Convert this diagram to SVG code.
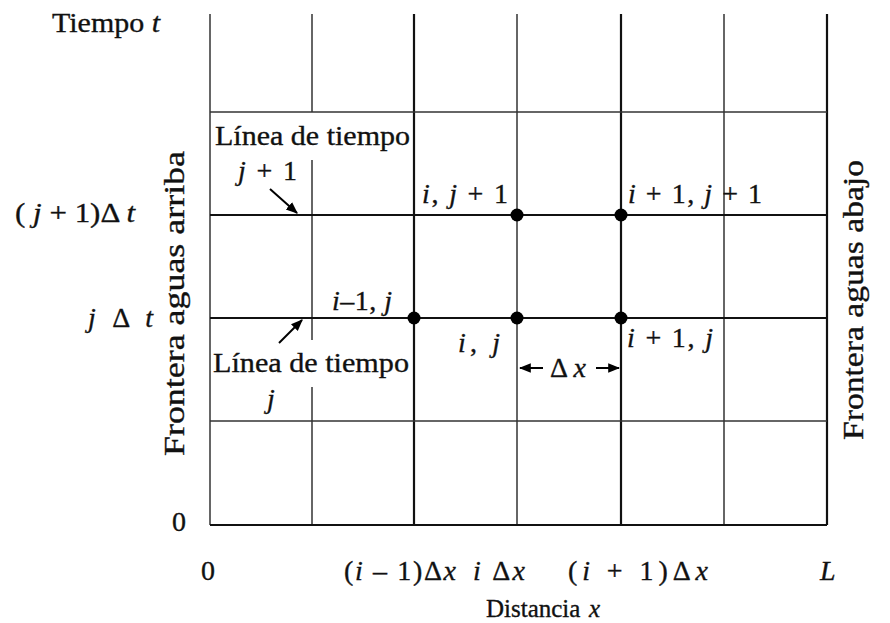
<svg xmlns="http://www.w3.org/2000/svg" width="890" height="623" viewBox="0 0 890 623">
<defs>
<style>
text{font-family:"Liberation Serif","Times New Roman",serif;font-size:28px;fill:#111;stroke:#111;stroke-width:0.35}
.it{font-style:italic}
.side{font-size:30px}
.thin{stroke:#333;stroke-width:1.5;fill:none}
.thick{stroke:#111;stroke-width:2.2;fill:none}
.dot{fill:#000}
.arr{stroke:#000;stroke-width:2;fill:none}
</style>
<marker id="ah" viewBox="0 0 10 10" refX="9" refY="5" markerWidth="6" markerHeight="6" orient="auto" markerUnits="strokeWidth">
<path d="M0,1 L10,5 L0,9 Z" fill="#000"/>
</marker>
</defs>
<rect width="890" height="623" fill="#fff"/>
<g id="grid">
<line class="thin" x1="210" y1="14" x2="210" y2="525"/>
<line class="thin" x1="312" y1="14" x2="312" y2="112"/>
<line class="thin" x1="312" y1="160" x2="312" y2="340"/>
<line class="thin" x1="312" y1="387" x2="312" y2="525"/>
<line class="thick" x1="414" y1="14" x2="414" y2="525"/>
<line class="thin" x1="517" y1="14" x2="517" y2="525"/>
<line class="thick" x1="621" y1="14" x2="621" y2="525"/>
<line class="thin" x1="724" y1="14" x2="724" y2="525"/>
<line class="thick" x1="827" y1="14" x2="827" y2="525"/>
<line class="thin" x1="210" y1="112" x2="827" y2="112"/>
<line class="thick" x1="210" y1="215" x2="827" y2="215"/>
<line class="thick" x1="210" y1="318" x2="827" y2="318"/>
<line class="thin" x1="210" y1="421" x2="827" y2="421"/>
<line class="thick" x1="210" y1="525" x2="827" y2="525"/>
</g>
<g id="node-i-j1"><circle class="dot" cx="517" cy="215" r="6.5"/></g>
<g id="node-i1-j1"><circle class="dot" cx="621" cy="215" r="6.5"/></g>
<g id="node-im1-j"><circle class="dot" cx="414" cy="318" r="6.5"/></g>
<g id="node-i-j"><circle class="dot" cx="517" cy="318" r="6.5"/></g>
<g id="node-i1-j"><circle class="dot" cx="621" cy="318" r="6.5"/></g>
<g id="connectors">
<line class="arr" x1="270" y1="189" x2="297" y2="213" marker-end="url(#ah)"/>
<line class="arr" x1="279" y1="343" x2="302" y2="320" marker-end="url(#ah)"/>
<line class="arr" x1="543" y1="368" x2="520" y2="368" marker-end="url(#ah)"/>
<line class="arr" x1="596" y1="368" x2="619" y2="368" marker-end="url(#ah)"/>
</g>
<g id="labels">
<text x="52" y="32" textLength="108" lengthAdjust="spacingAndGlyphs">Tiempo <tspan class="it">t</tspan></text>
<text x="15" y="222" textLength="120" lengthAdjust="spacingAndGlyphs">( <tspan class="it">j</tspan> + 1)Δ <tspan class="it">t</tspan></text>
<text x="88" y="327" textLength="65" lengthAdjust="spacing"><tspan class="it">j</tspan> Δ <tspan class="it">t</tspan></text>
<text x="172" y="531">0</text>
<text x="215" y="145" textLength="195" lengthAdjust="spacingAndGlyphs">Línea de tiempo</text>
<text x="238" y="180" textLength="59" lengthAdjust="spacing"><tspan class="it">j</tspan> + 1</text>
<text x="422" y="203" textLength="86" lengthAdjust="spacing"><tspan class="it">i</tspan>,  <tspan class="it">j</tspan> + 1</text>
<text x="628" y="203" textLength="134" lengthAdjust="spacing"><tspan class="it">i</tspan> + 1, <tspan class="it">j</tspan> + 1</text>
<text x="332" y="310" textLength="60" lengthAdjust="spacing"><tspan class="it">i</tspan>–1, <tspan class="it">j</tspan></text>
<text x="458" y="352" textLength="42" lengthAdjust="spacing"><tspan class="it">i</tspan>,  <tspan class="it">j</tspan></text>
<text x="627" y="347" textLength="86" lengthAdjust="spacing"><tspan class="it">i</tspan> + 1, <tspan class="it">j</tspan></text>
<text x="550" y="377">Δ <tspan class="it">x</tspan></text>
<text x="213" y="372" textLength="196" lengthAdjust="spacingAndGlyphs">Línea de tiempo</text>
<text x="267" y="408" class="it">j</text>
<text x="201" y="580">0</text>
<text x="344" y="580" textLength="112" lengthAdjust="spacing">(<tspan class="it">i</tspan> – 1)Δ<tspan class="it">x</tspan></text>
<text x="473" y="580" textLength="52" lengthAdjust="spacing"><tspan class="it">i</tspan> Δ<tspan class="it">x</tspan></text>
<text x="568" y="580" textLength="140" lengthAdjust="spacing">(<tspan class="it">i</tspan> + 1)Δ<tspan class="it">x</tspan></text>
<text x="820" y="580" class="it">L</text>
<text x="486" y="617" style="font-size:25px">Distancia <tspan class="it" x="589">x</tspan></text>
<text class="side" transform="translate(184,456) rotate(-90)" textLength="305" lengthAdjust="spacingAndGlyphs">Frontera aguas arriba</text>
<text class="side" transform="translate(863,440) rotate(-90)" textLength="280" lengthAdjust="spacingAndGlyphs">Frontera aguas abajo</text>
</g>
</svg>
